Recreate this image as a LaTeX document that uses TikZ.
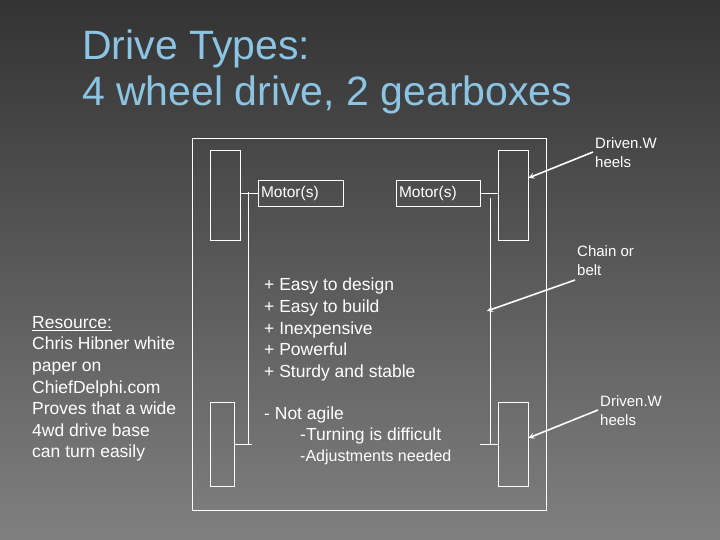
\documentclass[tikz,border=0pt]{standalone}
\usepackage{fontspec}
\setmainfont{Liberation Sans}
\begin{document}
\begin{tikzpicture}[x=1pt,y=-1pt,
  box/.style={draw=white,line width=0.8pt},
  ln/.style={draw=white,line width=0.8pt},
  arr/.style={draw=white,line width=1.6pt,-stealth},
  txt/.style={text=white,inner sep=0,align=left,anchor=north west}]
\useasboundingbox (0,0) rectangle (720,540);
\shade[top color=black!80,bottom color=black!50] (0,0) rectangle (720,540);
\node[txt,text={rgb,255:red,140;green,196;blue,228},font=\fontsize{41}{46}\selectfont] (title) at (82,30) {Drive Types:\\4 wheel drive, 2 gearboxes};
\draw[box] (192,138) rectangle (546,510);
\node[box,minimum width=30,minimum height=90,inner sep=0] (wtl) at (225,195) {};
\node[box,minimum width=30,minimum height=90,inner sep=0] (wtr) at (513,195) {};
\node[box,minimum width=24,minimum height=84,inner sep=0] (wbl) at (222,444) {};
\node[box,minimum width=30,minimum height=84,inner sep=0] (wbr) at (513,444) {};
\node[box,minimum width=85,minimum height=26,inner sep=0,text width=79,align=left,text=white,font=\fontsize{15.5}{17}\selectfont] (ml) at (300.5,193) {Motor(s)};
\node[box,minimum width=84,minimum height=26,inner sep=0,text width=78,align=left,text=white,font=\fontsize{15.5}{17}\selectfont] (mr) at (438,193) {Motor(s)};
\coordinate (c1) at (248,192); \coordinate (c2) at (248,444); \coordinate (c3) at (252,444);
\coordinate (d1) at (490,198); \coordinate (d2) at (490,444); \coordinate (d3) at (480,444);
\draw[ln] (wtl.east |- ml.west) -- (ml.west);
\draw[ln] (c1) -- (c2);
\draw[ln] (wbl.east) -- (c3);
\draw[ln] (mr.east) -- (wtr.west |- mr.east);
\draw[ln] (d1) -- (d2);
\draw[ln] (d3) -- (wbr.west);
\node[txt,font=\fontsize{17.5}{21.6}\selectfont] (pros) at (264,278) {+ Easy to design\\+ Easy to build\\+ Inexpensive\\+ Powerful\\+ Sturdy and stable};
\node[txt,font=\fontsize{17.5}{20}\selectfont] (c1t) at (264,407) {- Not agile};
\node[txt,font=\fontsize{17.5}{20}\selectfont] (c2t) at (300,428) {-Turning is difficult};
\node[txt,font=\fontsize{16}{18}\selectfont] (c3t) at (300,450) {-Adjustments needed};
\node[txt,font=\fontsize{17.5}{21.6}\selectfont] (res) at (32,316) {\underline{Resource:}\\Chris Hibner white\\paper on\\ChiefDelphi.com\\Proves that a wide\\4wd drive base\\can turn easily};
\node[txt,font=\fontsize{15}{19}\selectfont] (dw1) at (595,137) {Driven.W\\heels};
\node[txt,font=\fontsize{15}{19}\selectfont] (ch) at (577,245) {Chain or\\belt};
\node[txt,font=\fontsize{15}{19}\selectfont] (dw2) at (600,395) {Driven.W\\heels};
\draw[arr] (593,152) -- (wtr.east |- 0,178);
\draw[arr] (575,280) -- (487,311);
\draw[arr] (598,410) -- (wbr.east |- 0,438);
\end{tikzpicture}
\end{document}
